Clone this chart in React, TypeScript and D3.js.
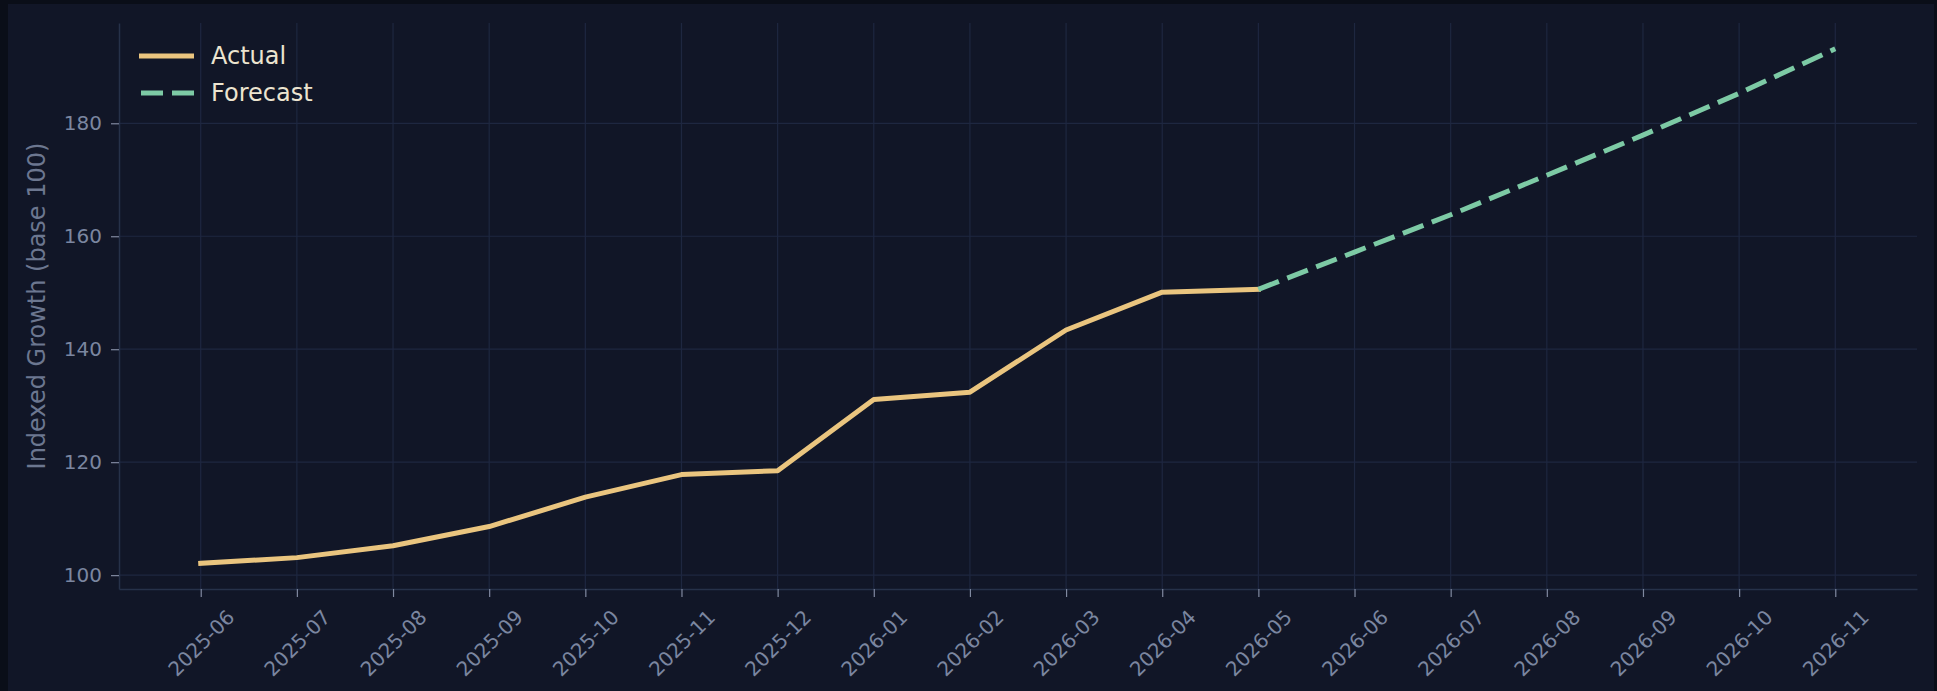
import React, { useEffect, useRef } from 'react';
import * as d3 from 'd3';

const months = [
  '2025-06', '2025-07', '2025-08', '2025-09', '2025-10', '2025-11',
  '2025-12', '2026-01', '2026-02', '2026-03', '2026-04', '2026-05',
  '2026-06', '2026-07', '2026-08', '2026-09', '2026-10', '2026-11',
];
const actualValues = [102.1, 103.1, 105.2, 108.6, 113.8, 117.8, 118.5, 131.1, 132.4, 143.4, 150.1, 150.6];
const forecastMonths = ['2026-05', '2026-06', '2026-07', '2026-08', '2026-09', '2026-10', '2026-11'];
const forecastValues = [150.6, 157.2, 163.8, 170.8, 177.9, 185.3, 193.2];
const yTicks = [100, 120, 140, 160, 180];

const W = 1937;
const H = 691;
const FONT = '"DejaVu Sans", sans-serif';

function GrowthChart() {
  const svgRef = useRef<SVGSVGElement>(null);

  useEffect(() => {
    const svg = d3.select(svgRef.current);
    svg.selectAll('*').remove();

    const left = 119, right = 1917, top = 23, bottom = 589;
    const n = months.length - 1;
    const pad = n * 0.05;
    const x = d3.scaleLinear().domain([-pad, n + pad]).range([left, right]);
    const all = actualValues.concat(forecastValues);
    const lo = d3.min(all) as number;
    const hi = d3.max(all) as number;
    const m = (hi - lo) * 0.05;
    const y = d3.scaleLinear().domain([lo - m, hi + m]).range([bottom, top]);

    svg.append('rect').attr('width', W).attr('height', H).attr('fill', '#0a0e18');
    svg.append('rect').attr('x', 8).attr('y', 4).attr('width', 1926).attr('height', 687).attr('fill', '#111627');

    // grid
    const grid = svg.append('g').attr('stroke', '#1e2740').attr('stroke-width', 1.2);
    grid.selectAll('line.v').data(d3.range(months.length)).join('line')
      .attr('class', 'v')
      .attr('x1', d => x(d)).attr('x2', d => x(d))
      .attr('y1', top).attr('y2', bottom);
    grid.selectAll('line.h').data(yTicks).join('line')
      .attr('class', 'h')
      .attr('x1', left).attr('x2', right)
      .attr('y1', d => y(d)).attr('y2', d => y(d));

    // axes
    const yAxis = svg.append('g')
      .attr('transform', `translate(${left},0)`)
      .call(d3.axisLeft(y).tickValues(yTicks).tickSize(8).tickSizeOuter(0).tickPadding(9));
    const xAxis = svg.append('g')
      .attr('transform', `translate(0,${bottom})`)
      .call(d3.axisBottom(x).tickValues(d3.range(months.length)).tickFormat(i => months[i as number])
        .tickSize(8).tickSizeOuter(0).tickPadding(9));

    [yAxis, xAxis].forEach(ax => {
      ax.select('.domain').attr('stroke', '#263149').attr('stroke-width', 1.5);
      ax.selectAll('.tick line').attr('stroke', '#8089a0').attr('stroke-width', 1.2);
      ax.selectAll('.tick text')
        .attr('fill', '#7b86a0')
        .style('font-family', FONT)
        .style('font-size', '20px');
    });
    xAxis.selectAll('.tick text')
      .attr('y', 0)
      .attr('dy', null)
      .attr('text-anchor', 'middle')
      .attr('dominant-baseline', 'central')
      .attr('transform', 'translate(0,54) rotate(-45)');

    // y label
    svg.append('text')
      .attr('transform', `translate(37,${(top + bottom) / 2}) rotate(-90)`)
      .attr('text-anchor', 'middle')
      .attr('dominant-baseline', 'central')
      .attr('fill', '#6c7790')
      .style('font-family', FONT)
      .style('font-size', '24px')
      .text('Indexed Growth (base 100)');

    // lines
    const line = d3.line<number>()
      .x((d, i) => x(i))
      .y(d => y(d));
    svg.append('path')
      .datum(actualValues)
      .attr('fill', 'none')
      .attr('stroke', '#eac57f')
      .attr('stroke-width', 5)
      .attr('stroke-linejoin', 'round')
      .attr('stroke-linecap', 'square')
      .attr('d', line);

    const startIdx = months.indexOf(forecastMonths[0]);
    const fLine = d3.line<number>()
      .x((d, i) => x(startIdx + i))
      .y(d => y(d));
    svg.append('path')
      .datum(forecastValues)
      .attr('fill', 'none')
      .attr('stroke', '#7dcaa5')
      .attr('stroke-width', 5)
      .attr('stroke-dasharray', '22 9')
      .attr('d', fLine);

    // legend
    const legend = svg.append('g');
    legend.append('line')
      .attr('x1', 139).attr('x2', 194).attr('y1', 56).attr('y2', 56)
      .attr('stroke', '#eac57f').attr('stroke-width', 5);
    legend.append('line')
      .attr('x1', 141).attr('x2', 194).attr('y1', 93).attr('y2', 93)
      .attr('stroke', '#7dcaa5').attr('stroke-width', 5).attr('stroke-dasharray', '22 9');
    legend.selectAll('text').data(['Actual', 'Forecast']).join('text')
      .attr('x', 211)
      .attr('y', (d, i) => 64 + i * 37)
      .attr('fill', '#ece4d0')
      .style('font-family', FONT)
      .style('font-size', '24px')
      .text(d => d);
  }, []);

  return <svg ref={svgRef} width={W} height={H} style={{ display: 'block' }}></svg>;
}

export default function App() {
  return (
    <div style={{ position: 'fixed', left: 0, top: 0, width: W, height: H, overflow: 'hidden' }}>
      <GrowthChart />
    </div>
  );
}
